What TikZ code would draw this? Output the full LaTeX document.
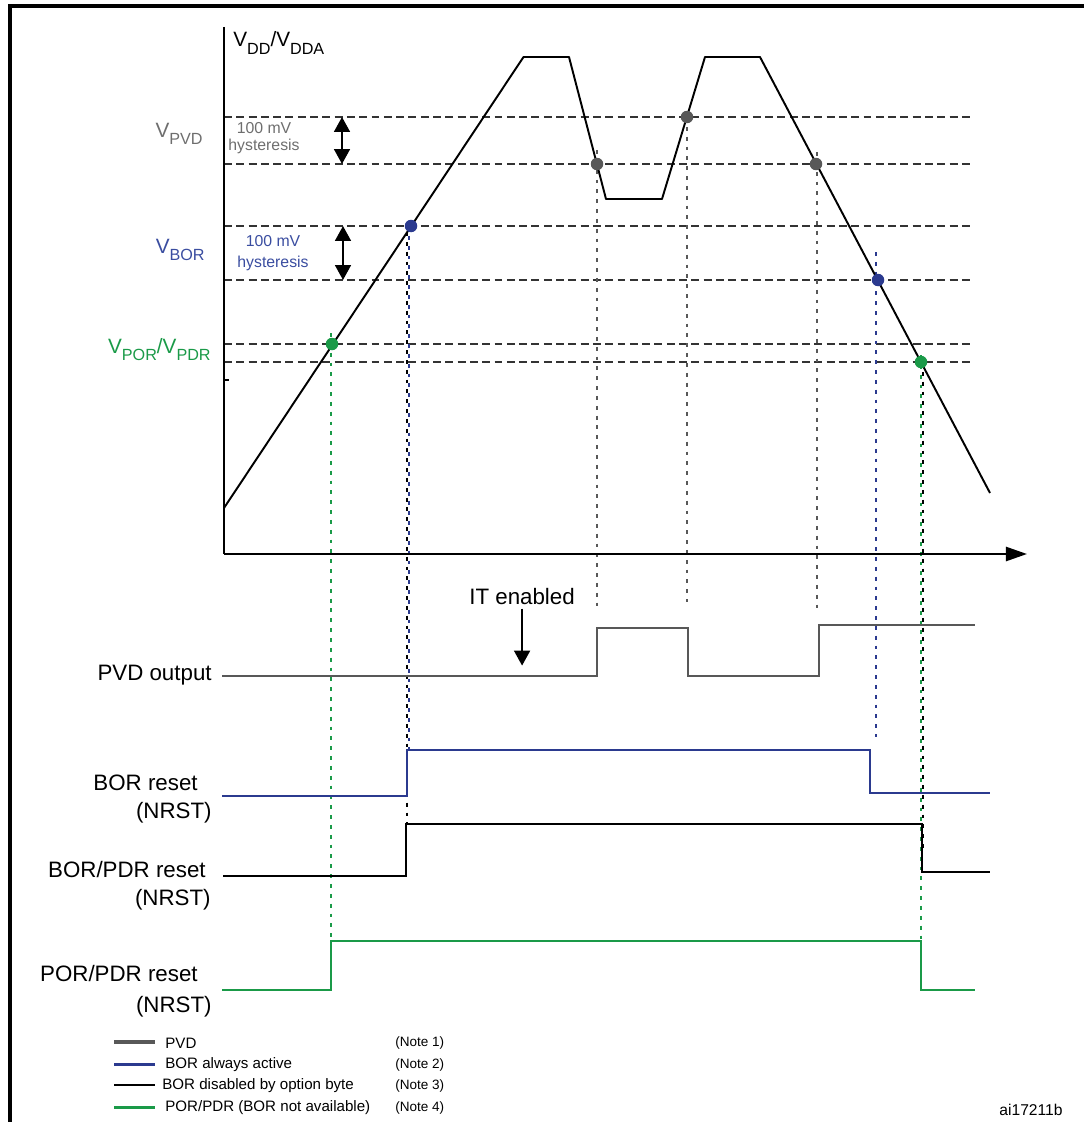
\documentclass[tikz,border=0pt]{standalone}
\usepackage{fontspec}
\setmainfont{Liberation Sans}
\usetikzlibrary{arrows.meta}
\definecolor{PvdGray}{HTML}{585858}
\definecolor{PvdText}{HTML}{6E6E6E}
\definecolor{BorBlue}{HTML}{2B3A8F}
\definecolor{BorText}{HTML}{3A4DA0}
\definecolor{PorGreen}{HTML}{1A9A48}
\definecolor{LevelInk}{HTML}{333333}
\newcommand{\vlow}[1]{\raisebox{-4.3pt}{\fontsize{9.2}{9}\selectfont #1}}

\begin{document}
\begin{tikzpicture}[x=0.02cm, y=-0.02cm,
  sigtext/.style={inner sep=0pt, anchor=base east, font=\fontsize{12.7}{15}\selectfont},
  vlabel/.style={inner sep=0pt, anchor=base east, font=\fontsize{11.8}{13}\selectfont},
  hystext/.style={inner sep=0pt, align=center},
  legtext/.style={inner sep=0pt, anchor=west, font=\fontsize{8.6}{10}\selectfont},
  level/.style={draw=LevelInk, line width=0.9pt, dash pattern=on 4.5pt off 2.5pt},
  drop/.style={line width=0.85pt, dash pattern=on 2.2pt off 3.4pt},
  wave/.style={line width=1.2pt},
  hyst/.style={{Triangle[length=8.5pt,width=9pt]}-{Triangle[length=8.5pt,width=9pt]}, line width=1.2pt},
  pointer/.style={-{Triangle[length=8.5pt,width=9pt]}, line width=1.2pt},
  hit/.style={circle, inner sep=0pt, minimum size=0.25cm}
]
\useasboundingbox (0,0) rectangle (1084,1122);
\draw[line width=1.8pt] (10,1122) -- (10,6) -- (1084,6);

\draw[level] (224,117) -- (972,117) (224,164) -- (972,164)
  (224,226) -- (972,226) (224,280) -- (972,280)
  (224,344) -- (972,344) (224,362) -- (972,362);

\draw[drop, PvdGray] (597,150) -- (597,608);
\draw[drop, PvdGray] (687,117) -- (687,602);
\draw[drop, PvdGray] (817,152) -- (817,609);
\draw[drop, black] (407,232) -- (407,824);
\draw[drop, BorBlue] (409,226) -- (409,750);
\draw[drop, BorBlue] (876,252) -- (876,737);
\draw[drop, PorGreen] (331,333) -- (331,941);
\draw[drop, black] (923,362) -- (923,850);
\draw[drop, PorGreen] (921,355) -- (921,941);

\draw[line width=1.4pt] (224,27) -- (224,554);
\draw[line width=1.4pt, -{Triangle[length=12pt,width=8pt]}] (224,554) -- (1027,554);
\draw[line width=1pt] (224,380) -- (229,380);

\draw[line width=1.1pt, line join=round] (224,508) -- (523.5,57) -- (569,57)
  -- (606,199) -- (662,199) -- (705,57) -- (760,57) -- (990,493);

\node[hit, fill=PvdGray] (pvdfall) at (597,164) {};
\node[hit, fill=PvdGray] (pvdrise) at (687,117) {};
\node[hit, fill=PvdGray] (pvdoff) at (816,164) {};
\node[hit, fill=BorBlue] (boron) at (411,226) {};
\node[hit, fill=BorBlue] (boroff) at (878,280) {};
\node[hit, fill=PorGreen] (poron) at (332,344) {};
\node[hit, fill=PorGreen] (pdroff) at (921,362) {};

\node[vlabel, anchor=base west] (vdd) at (233,47) {V\vlow{DD}/V\vlow{DDA}};
\node[vlabel, text=PvdText] (vpvd) at (203,137) {V\vlow{PVD}};
\node[vlabel, text=BorText] (vbor) at (205,253) {V\vlow{BOR}};
\node[vlabel, text=PorGreen] (vpor) at (211,353) {V\vlow{POR}/V\vlow{PDR}};

\node[hystext, text=PvdText, font=\fontsize{9}{9.7}\selectfont] (pvdhys) at (264,138) {100 mV\\hysteresis};
\node[hystext, text=BorText, font=\fontsize{9}{12}\selectfont] (borhys) at (273,253) {100 mV\\hysteresis};
\draw[hyst] (342,117) -- (342,164);
\draw[hyst] (343,226) -- (343,280);

\node[sigtext, anchor=base west] (itlbl) at (469,604) {IT enabled};
\draw[pointer] ([yshift=-2.3pt]itlbl.south) -- ++(0,57);

\node[sigtext] (pvdlbl) at (212,680) {PVD output};
\draw[wave, PvdGray] (222,676) -- (597,676) -- (597,628) -- (688,628) -- (688,676)
  -- (819,676) -- (819,625) -- (975,625);

\node[sigtext] (borlbl) at (198,790) {BOR reset};
\node[sigtext] (bornrst) at (212,818) {(NRST)};
\draw[wave, BorBlue, line width=1.3pt] (222,796) -- (407,796) -- (407,750) -- (870,750)
  -- (870,793) -- (990,793);

\node[sigtext] (pdrlbl) at (206,877) {BOR/PDR reset};
\node[sigtext] (pdrnrst) at (211,905) {(NRST)};
\draw[wave, line width=0.9pt] (223,876) -- (406,876) -- (406,824) -- (922,824)
  -- (922,872) -- (990,872);

\node[sigtext] (porlbl) at (198,981) {POR/PDR reset};
\node[sigtext] (pornrst) at (212,1012) {(NRST)};
\draw[wave, PorGreen] (222,990) -- (331,990) -- (331,941) -- (921,941)
  -- (921,990) -- (975,990);

\draw[PvdGray, line width=2.2pt] (114,1042) -- (155,1042);
\draw[BorBlue, line width=1.7pt] (114,1064) -- (155,1064);
\draw[black, line width=1.5pt] (114,1085) -- (155,1085);
\draw[PorGreen, line width=1.7pt] (114,1107) -- (155,1107);
\node[legtext] (legpvd) at (165,1043) {PVD};
\node[legtext] (legbor) at (165,1065) {BOR always active};
\node[legtext] (legopt) at (162,1086) {BOR disabled by option byte};
\node[legtext] (legpor) at (165,1108) {POR/PDR (BOR not available)};
\node[legtext, font=\fontsize{7.7}{9}\selectfont] (note1) at (395,1043) {(Note 1)};
\node[legtext, font=\fontsize{7.7}{9}\selectfont] (note2) at (395,1065) {(Note 2)};
\node[legtext, font=\fontsize{7.7}{9}\selectfont] (note3) at (395,1086) {(Note 3)};
\node[legtext, font=\fontsize{7.7}{9}\selectfont] (note4) at (395,1108) {(Note 4)};

\node[inner sep=0pt, font=\fontsize{8.9}{10}\selectfont] (figid) at (1031,1110) {ai17211b};
\end{tikzpicture}
\end{document}
